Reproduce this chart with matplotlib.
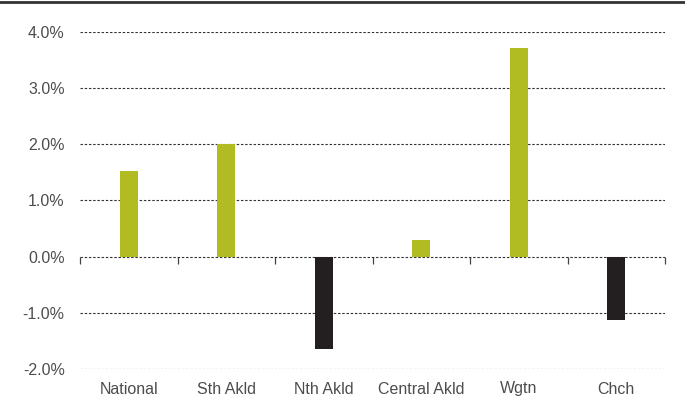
import matplotlib
matplotlib.use('Agg')
import matplotlib.pyplot as plt
from matplotlib.lines import Line2D
import numpy as np

regions = ['National', 'Sth Akld', 'Nth Akld', 'Central Akld', 'Wgtn', 'Chch']
changes = [1.53, 2.0, -1.65, 0.30, 3.72, -1.12]
yticks = [-2, -1, 0, 1, 2, 3, 4]

green = '#b0bc22'
dark = '#231f20'
text_col = '#4d4d4d'

plt.rcParams['font.family'] = ['Liberation Sans', 'DejaVu Sans']

fig = plt.figure(figsize=(6.85, 4.05), dpi=100)
ax = fig.add_axes([80 / 685, 1 - 369 / 405, 585 / 685, 337 / 405])

x = np.arange(len(regions))
colors = [green if v >= 0 else dark for v in changes]
ax.bar(x, changes, width=0.18, color=colors, zorder=3)

ax.set_xlim(-0.5, len(regions) - 0.5)
ax.set_ylim(-2, 4)
ax.set_yticks(yticks)
ax.set_yticklabels([f'{v:.1f}%' for v in yticks])
ax.set_xticks(x)
ax.set_xticklabels(regions)

ax.yaxis.grid(True, linestyle=(0, (2.2, 1.6)), color='#333333', linewidth=0.8)
ax.set_axisbelow(True)
for s in ax.spines.values():
    s.set_visible(False)

ax.tick_params(axis='y', length=0, pad=11, labelsize=11.5, labelcolor=text_col)
ax.tick_params(axis='x', length=0, pad=9, labelsize=11.5, labelcolor=text_col)

# boundary ticks on the zero line
sec = ax.secondary_xaxis(2 / 6)
sec.set_xticks(np.arange(len(regions) + 1) - 0.5)
sec.set_xticklabels([])
sec.tick_params(axis='x', direction='out', length=5, width=0.9, color='#444444')
sec.spines['bottom'].set_visible(False)

fig.add_artist(Line2D([0, 1], [0.994, 0.994], transform=fig.transFigure,
                      color='#333333', linewidth=2))

fig.savefig('out.png', dpi=100)
